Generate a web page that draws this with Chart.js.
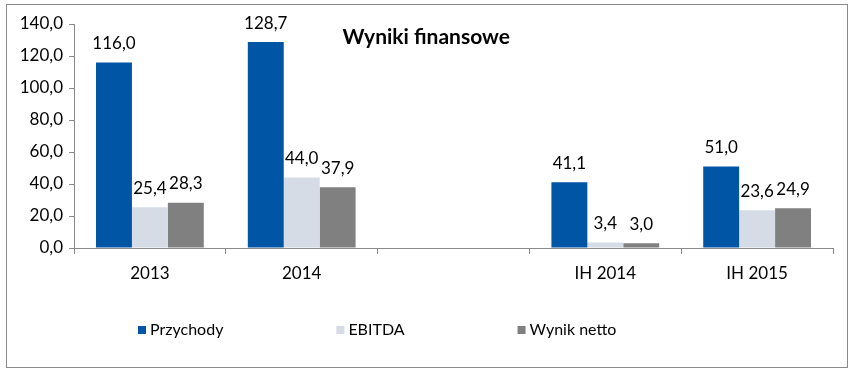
<!DOCTYPE html>
<html>
<head>
    <title>Wyniki finansowe</title>
    <style>
        html, body {
            margin: 0;
            padding: 0;
            background: #fff;
        }

        #frame {
            position: absolute;
            left: 6px;
            top: 4px;
            width: 840px;
            height: 362px;
            border: 1px solid #8a8a8a;
        }
    </style>
    <script src="https://cdn.jsdelivr.net/npm/chart.js@4.4.1/dist/chart.umd.min.js"></script>
</head>
<body>
    <div id="frame">
        <canvas id="chartCanvas" width="840" height="362"></canvas>
    </div>

    <script>
        // Dane
        const categories = ['2013', '2014', '', 'IH 2014', 'IH 2015'];
        const przychody = [116.0, 128.7, null, 41.1, 51.0];
        const ebitda = [25.4, 44.0, null, 3.4, 23.6];
        const wynikNetto = [28.3, 37.9, null, 3.0, 24.9];
        const yTicks = [0, 20, 40, 60, 80, 100, 120, 140];

        const seriesNames = ['Przychody', 'EBITDA', 'Wynik netto'];
        const seriesColors = ['#0055a5', '#d5dce6', '#808080'];

        const FONT = 'Lato, "Liberation Sans", sans-serif';

        function fmt(v) {
            return v.toFixed(1).replace('.', ',');
        }

        // Etykiety nad słupkami
        const valueLabels = {
            id: 'valueLabels',
            afterDatasetsDraw(chart) {
                const ctx = chart.ctx;
                ctx.save();
                ctx.font = '17px ' + FONT;
                ctx.fillStyle = '#000';
                ctx.textAlign = 'center';
                ctx.textBaseline = 'middle';
                chart.data.datasets.forEach((ds, i) => {
                    const meta = chart.getDatasetMeta(i);
                    meta.data.forEach((bar, j) => {
                        const v = ds.data[j];
                        if (v === null || v === undefined) return;
                        ctx.fillText(fmt(v), bar.x, bar.y - 19);
                    });
                });
                ctx.restore();
            }
        };

        // Tytuł wewnątrz obszaru wykresu
        const innerTitle = {
            id: 'innerTitle',
            afterDraw(chart) {
                const ctx = chart.ctx;
                const area = chart.chartArea;
                ctx.save();
                ctx.font = 'bold 21px ' + FONT;
                ctx.fillStyle = '#000';
                ctx.textAlign = 'center';
                ctx.textBaseline = 'middle';
                ctx.fillText('Wyniki finansowe', area.left + (area.right - area.left) * 0.464, area.top + 13);
                ctx.restore();
            }
        };

        // Legenda na dole, szeroko rozstawiona
        const bottomLegend = {
            id: 'bottomLegend',
            afterDraw(chart) {
                const ctx = chart.ctx;
                const y = chart.height - 37;
                const gap = 113;
                const box = 8;
                let x = 131;
                ctx.save();
                ctx.font = '16px ' + FONT;
                ctx.textBaseline = 'middle';
                ctx.textAlign = 'left';
                chart.data.datasets.forEach((ds) => {
                    ctx.fillStyle = ds.backgroundColor;
                    ctx.fillRect(x, y - box / 2, box, box);
                    ctx.fillStyle = '#000';
                    ctx.fillText(ds.label, x + box + 4, y);
                    x += box + 4 + ctx.measureText(ds.label).width + gap;
                });
                ctx.restore();
            }
        };

        const chartData = {
            labels: categories,
            datasets: [przychody, ebitda, wynikNetto].map((data, i) => ({
                label: seriesNames[i],
                data: data,
                backgroundColor: seriesColors[i],
                borderWidth: 0,
                categoryPercentage: 0.71,
                barPercentage: 1.0
            }))
        };

        const chartOptions = {
            responsive: false,
            animation: false,
            layout: {
                padding: { left: 0, right: 14, top: 19, bottom: 79 }
            },
            scales: {
                x: {
                    grid: {
                        offset: true,
                        drawOnChartArea: false,
                        drawTicks: true,
                        tickLength: 6,
                        color: '#8a8a8a'
                    },
                    border: { display: true, color: '#8a8a8a' },
                    ticks: {
                        color: '#000',
                        font: { family: FONT, size: 17 },
                        padding: 9
                    },
                    afterFit(scale) { scale.height = 40; }
                },
                y: {
                    min: 0,
                    max: 140,
                    afterBuildTicks(scale) {
                        scale.ticks = yTicks.map(v => ({ value: v }));
                    },
                    grid: {
                        drawOnChartArea: false,
                        drawTicks: true,
                        tickLength: 5,
                        color: '#8a8a8a'
                    },
                    border: { display: true, color: '#8a8a8a' },
                    ticks: {
                        color: '#000',
                        font: { family: FONT, size: 17 },
                        padding: 6,
                        callback: (v) => fmt(v)
                    },
                    afterFit(scale) { scale.width = 67; }
                }
            },
            plugins: {
                legend: { display: false },
                title: { display: false },
                tooltip: { enabled: false }
            }
        };

        new Chart(document.getElementById('chartCanvas').getContext('2d'), {
            type: 'bar',
            data: chartData,
            options: chartOptions,
            plugins: [valueLabels, innerTitle, bottomLegend]
        });
    </script>
</body>
</html>
